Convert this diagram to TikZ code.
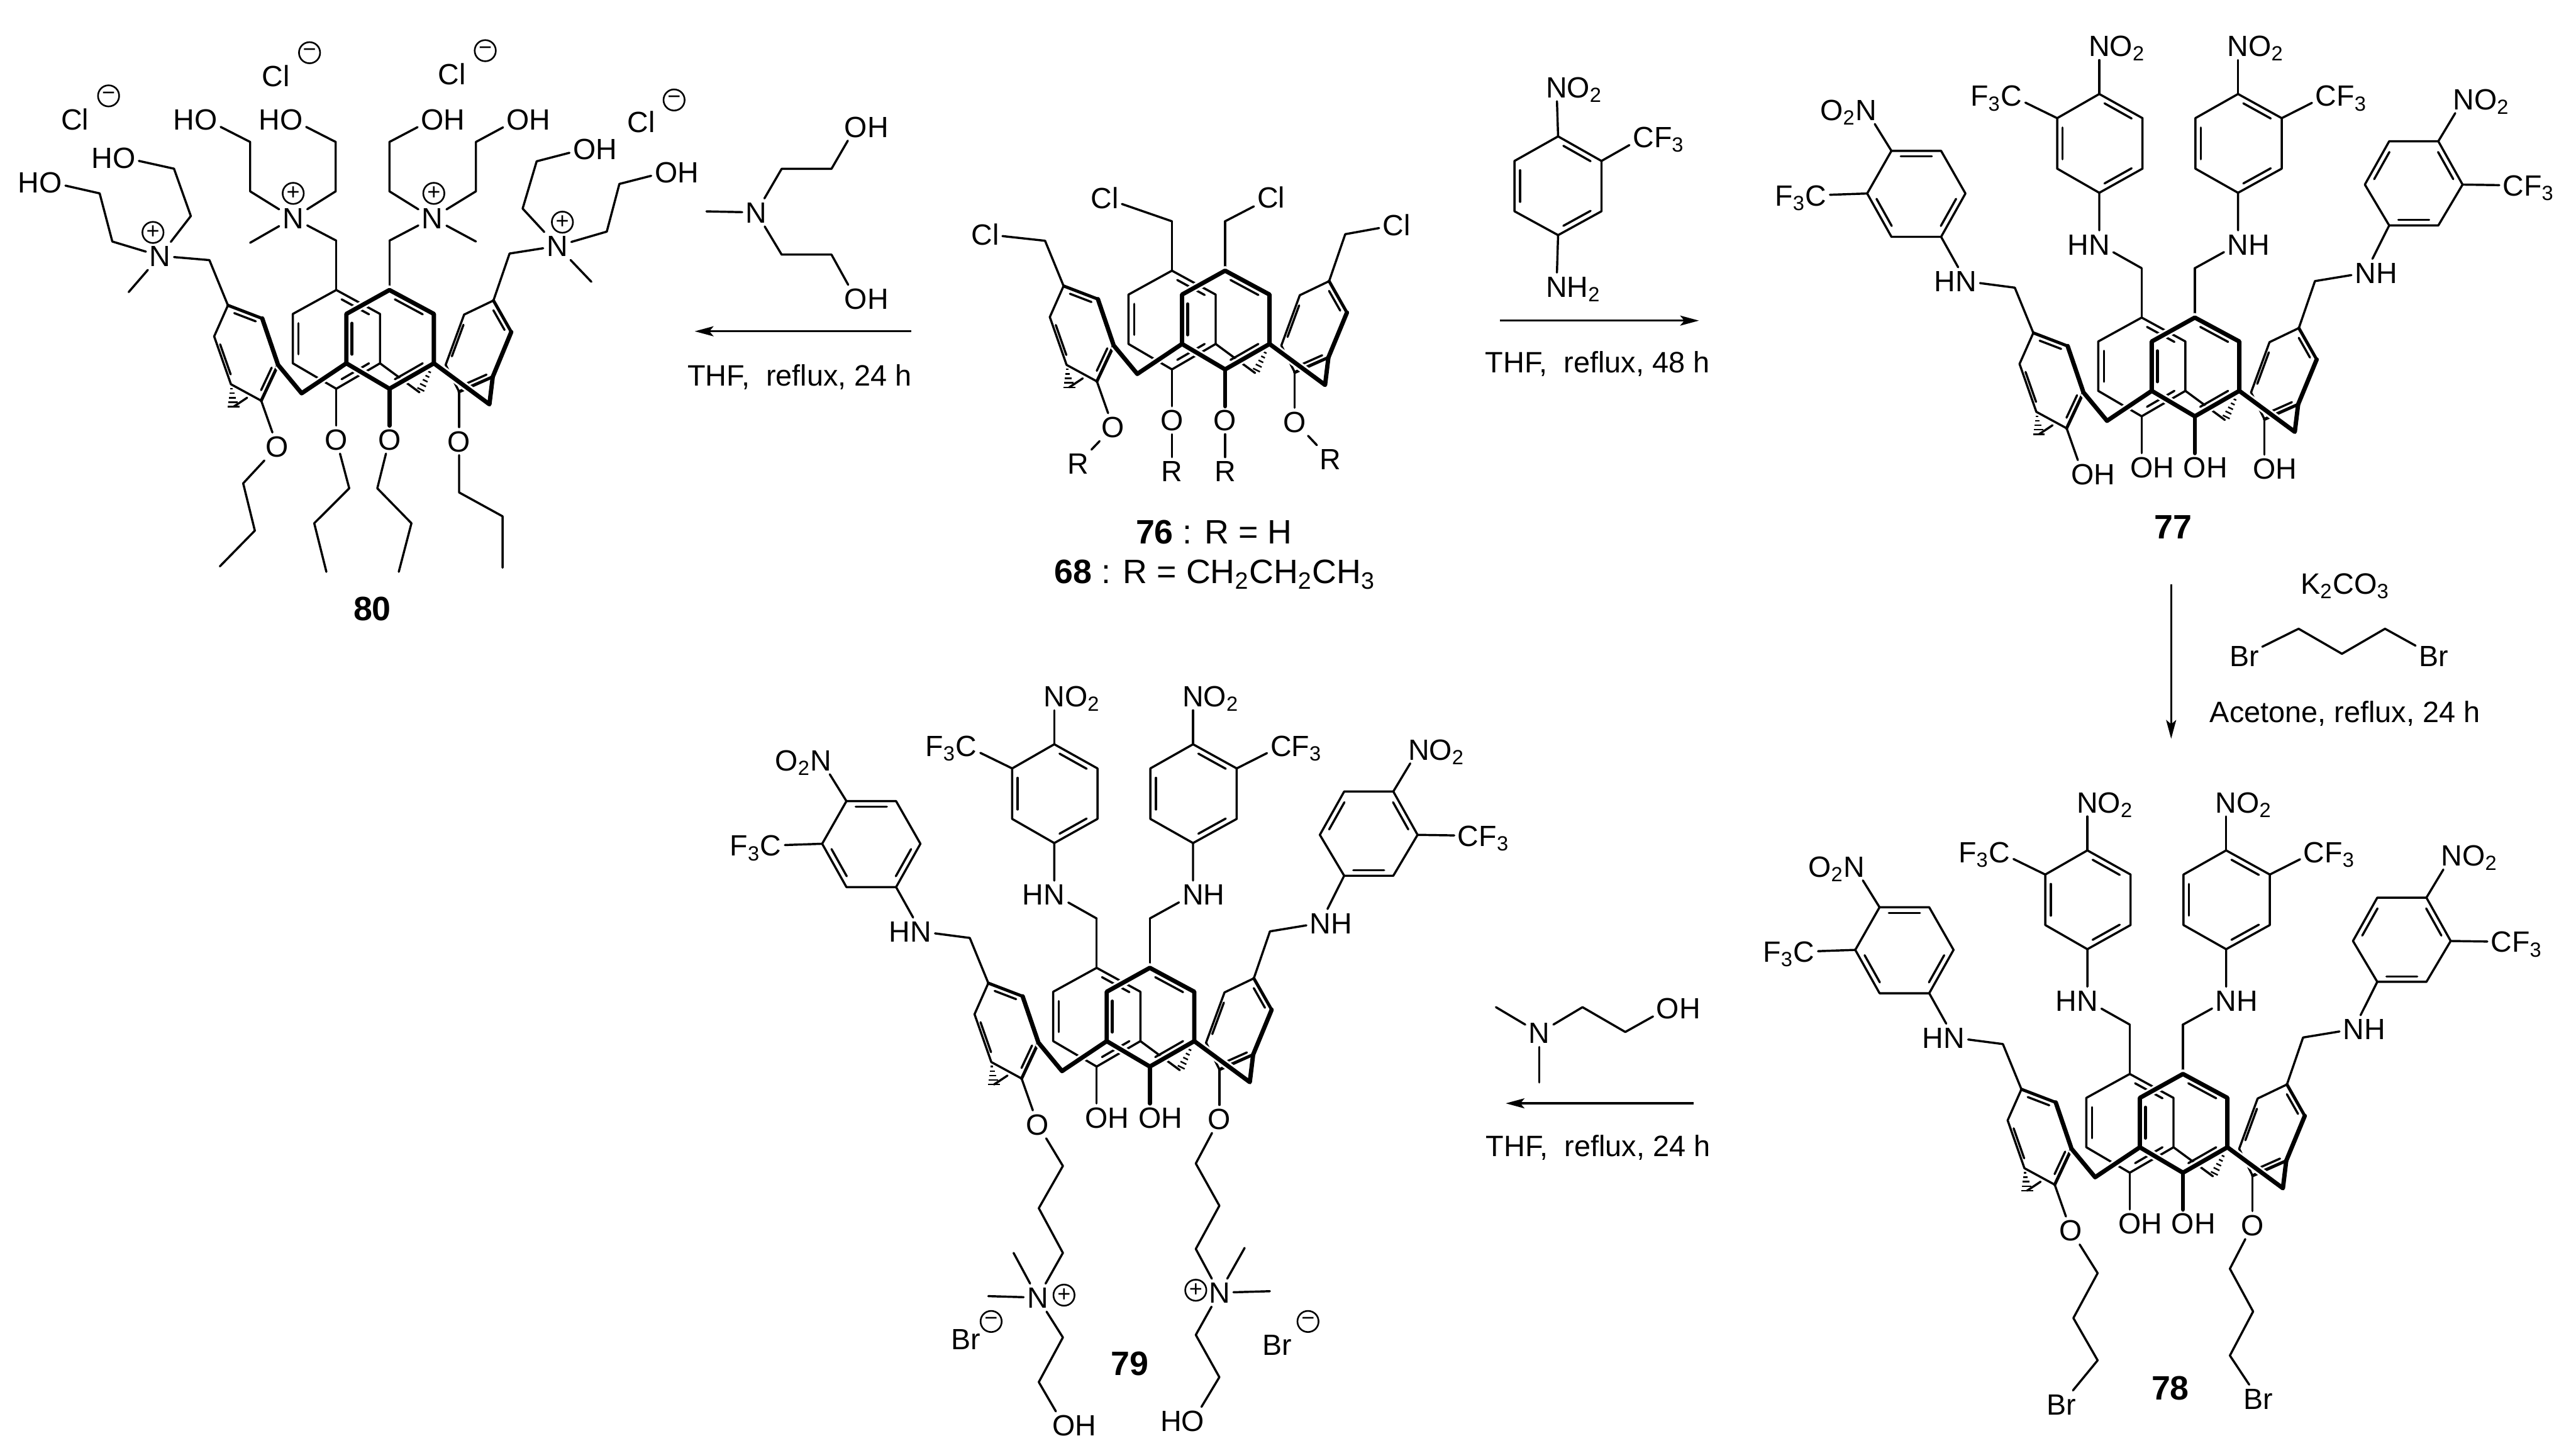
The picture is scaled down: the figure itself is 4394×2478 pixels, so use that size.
\documentclass[tikz,border=0pt]{standalone}
\usepackage{fontspec}
\setmainfont{Liberation Sans}
\usetikzlibrary{arrows.meta,calc}

\newcommand{\nitro}{N\rlap{O\textsubscript{2}}}
\newcommand{\nitrol}{\llap{O\textsubscript{2}}N}
\newcommand{\cfr}{C\rlap{F\textsubscript{3}}}
\newcommand{\cfl}{\llap{F\textsubscript{3}}C}
\newcommand{\hyr}{O\rlap{H}}
\newcommand{\hyl}{\llap{H}O}

\newcommand{\inbond}[3]{\draw[bond] ($(#1)!.14!(#2)!.13!(#3)$) -- ($(#2)!.14!(#1)!.13!(#3)$);}
\newcommand{\sixring}[7]{
\coordinate (#1a) at (#2);
\coordinate (#1b) at (#3);
\coordinate (#1c) at (#4);
\coordinate (#1d) at (#5);
\coordinate (#1e) at (#6);
\coordinate (#1f) at (#7);
\coordinate (#1m) at ($(#1a)!.5!(#1d)$);
\draw[bond] (#1a) -- (#1b) -- (#1c) -- (#1d) -- (#1e) -- (#1f) -- cycle;
\inbond{#1a}{#1b}{#1m}
\inbond{#1c}{#1d}{#1m}
\inbond{#1e}{#1f}{#1m}
}

\newcommand{\calixcore}[4]{
\coordinate (LH) at (-265.8,30.6);
\coordinate (LB) at (-149.8,7.7);
\coordinate (RH) at (51.1,6.1);
\coordinate (RB) at (170.5,26.5);
\coordinate (Ml) at (-307.1,-219.4);
\coordinate (Mb) at (-90.7,-252.6);
\coordinate (Mf) at (0,-252.6);
\coordinate (Mr) at (204.9,-230.6);
\node[atom] (o1) at (-191.2,98.5) {#1};
\node[atom] (o2) at (-90.7,86.7) {#2};
\node[atom] (o3) at (0,86.7) {#3};
\node[atom] (o4) at (118.8,89.3) {#4};

\sixring{Bk}{-90.7,-168.4}{-16.1,-127.6}{-16.1,-43.4}{-90.7,0}{-164.8,-43.4}{-164.8,-127.6}
\sixring{Lf}{-275.5,-142.3}{-217,-119.9}{-190,-40.8}{-218.7,20.4}{-270.4,-7.7}{-299,-89.3}
\sixring{Rt}{177.4,-150.5}{207.8,-96.9}{176.2,-20.4}{118.8,5.1}{95.9,-40.8}{127.4,-126.5}

\draw[bond] (Bkc) -- (RH);
\draw[bond] (LH) -- (-242.8,15.3);
\foreach \t/\w in {.2/2,.4/4,.6/6,.8/8,1/10}
  \draw[hashbond] ($(Lfe)!\t!(LH)$) ++(-\w,0) -- ++({2*\w},0);
\foreach \t/\w in {.15/1.5,.3/2.5,.45/3.5,.6/4.5,.75/5.5,.9/6.5}
  \draw[hashbond] ($(75.8,-43.4)!\t!(RH)$) +({-.9*\w},{-.45*\w}) -- +({.9*\w},{.45*\w});

\draw[bond] (Lfa) -- (Ml);
\draw[bond] (Bka) -- (Mb);
\draw[bond] (0,-168.4) -- (Mf);
\draw[bond] (Rta) -- (Mr);
\draw[bond] (Lfd) -- (o1);
\draw[bond] (Bkd) -- (o2);
\draw[bond] (Rtd) -- (o4);

\draw[midbond] (Lfa) -- (Lfb);
\draw[midbond] (Lfc) -- (Lfd);
\draw[midbond] (Rta) -- (Rtb);
\draw[midbond] (Rtc) -- (Rtd);
\draw[boldbond] (Lfb) -- (Lfc);
\draw[boldbond] (Rtb) -- (Rtc);

\draw[halo] (0,-168.4) -- (75.8,-127.6) -- (75.8,-43.4) -- (0,0) -- (-73.5,-43.4) -- (-73.5,-127.6) -- cycle;
\draw[halo] (-190,-40.8) -- (LB) -- (-73.5,-43.4);
\draw[halo] (75.8,-43.4) -- (RB);
\sixring{Fr}{0,-168.4}{75.8,-127.6}{75.8,-43.4}{0,0}{-73.5,-43.4}{-73.5,-127.6}
\draw[midbond] ($(Fre)!.14!(Frf)!.13!(Frm)$) -- ($(Frf)!.14!(Fre)!.13!(Frm)$);
\draw[boldbond] (Fra) -- (Frb) -- (Frc) -- (Frd) -- (Fre) -- (Frf) -- cycle;
\draw[boldbond] (Lfc) -- (LB) -- (Fre);
\draw[boldbond] (Frc) -- (RB) -- (Rtc);
\draw[boldbond] (Frd) -- (o3);
}

\newcommand{\nitroarms}{
\sixring{ArA}{-163,-549.7}{-89.3,-508.5}{-89.3,-422.4}{-163,-381.2}{-234.8,-422.4}{-234.8,-508.5}
\sixring{ArB}{73.7,-549.7}{148.2,-508.5}{148.2,-422.4}{73.7,-381.2}{0.9,-422.4}{0.9,-508.5}
\sixring{ArC}{-517.5,-452.7}{-432.8,-452.7}{-391.3,-380}{-432.8,-306.1}{-517.5,-306.1}{-558.9,-380}
\sixring{ArD}{331.5,-469.1}{290,-395.2}{331.5,-325.5}{415.3,-325.5}{456.7,-395.2}{415.3,-469.1}
\node[atom] (nb) at (-163,-293.3) {\llap{H}N};
\node[atom] (nf) at (73.7,-293.3) {N\rlap{H}};
\node[atom] (nl) at (-390.4,-230.3) {\llap{H}N};
\node[atom] (nr) at (291,-244.8) {N\rlap{H}};
\node[atom] (noa) at (-163,-631.5) {\nitro};
\node[atom] (nob) at (73.7,-631.5) {\nitro};
\node[atom] (noc) at (-560.8,-522.4) {\nitrol};
\node[atom] (nod) at (458.6,-541) {\nitro};
\node[atom] (cfa) at (-313,-546.7) {\cfl};
\node[atom] (cfb) at (223.8,-546.7) {\cfr};
\node[atom] (cfc) at (-646.4,-377) {\cfl};
\node[atom] (cfd) at (543.3,-393.9) {\cfr};
\draw[bond] (Mb) -- (nb) -- (ArAd);
\draw[bond] (Mf) -- (nf) -- (ArBd);
\draw[bond] (Ml) -- (nl) -- (ArCd);
\draw[bond] (Mr) -- (nr) -- (ArDc);
\draw[bond] (ArAa) -- (noa);
\draw[bond] (ArBa) -- (nob);
\draw[bond] (ArCa) -- (noc);
\draw[bond] (ArDf) -- (nod);
\draw[bond] (ArAf) -- (cfa);
\draw[bond] (ArBb) -- (cfb);
\draw[bond] (ArCf) -- (cfc);
\draw[bond] (ArDe) -- (cfd);
}

\begin{document}
\begin{tikzpicture}
[x=0.01cm,y=-0.01cm,
bond/.style={line width=1.05pt,line cap=round,line join=round},
midbond/.style={line width=1.5pt,line cap=round,line join=round},
boldbond/.style={line width=2.1pt,line cap=round,line join=round},
hashbond/.style={line width=0.75pt},
halo/.style={white,line width=4pt},
atom/.style={inner sep=1.5pt,text height=10.2pt,text depth=0pt,font=\fontsize{14.2}{17}\selectfont},
cond/.style={inner sep=0pt,font=\fontsize{14.3}{17}\selectfont},
numlabel/.style={inner sep=0pt,font=\fontsize{16.4}{19}\selectfont},
charge/.style={circle,draw,line width=0.8pt,inner sep=0pt,minimum size=0.36cm,text depth=0pt,font=\fontsize{11}{12}\selectfont},
rxn/.style={line width=1.05pt,-{Stealth[length=0.32cm,width=0.17cm,inset=0.07cm]}}]
\useasboundingbox (0,0) rectangle (4394,2478);

\begin{scope}[shift={(2089.7,630)},name prefix=m76-]
\calixcore{O}{O}{O}{O}
\node[atom] (cl1) at (-409.3,-230.6) {Cl};
\node[atom] (cl2) at (-205.5,-292.3) {Cl};
\node[atom] (cl3) at (78.6,-293.4) {Cl};
\node[atom] (cl4) at (292.2,-246.4) {Cl};
\node[atom] (r1) at (-250.9,160.7) {R};
\node[atom] (r2) at (-90.7,173.5) {R};
\node[atom] (r3) at (0,173.5) {R};
\node[atom] (r4) at (179.1,153) {R};
\draw[bond] (Ml) -- (cl1);
\draw[bond] (Mb) -- (cl2);
\draw[bond] (Mf) -- (cl3);
\draw[bond] (Mr) -- (cl4);
\draw[bond] (o1) -- (r1);
\draw[bond] (o2) -- (r2);
\draw[bond] (o3) -- (r3);
\draw[bond] (o4) -- (r4);
\end{scope}
\node[numlabel] (c76) at (2070.7,908) {\textbf{76} : R = H};
\node[numlabel] (c68) at (2072,980) {\textbf{68} : R = CH\textsubscript{2}CH\textsubscript{2}CH\textsubscript{3}};

\begin{scope}[shift={(664.3,663)},name prefix=m80-]
\calixcore{O}{O}{O}{O}
\node[atom] (n1) at (-391.4,-226.6) {N};
\node[atom] (n2) at (-164.2,-291.1) {N};
\node[atom] (n3) at (73.3,-291.1) {N};
\node[atom] (n4) at (286.2,-243.4) {N};
\node[charge] (p1) at (-403.4,-266.6) {+};
\node[charge] (p2) at (-164.2,-333.2) {+};
\node[charge] (p3) at (75.7,-333.2) {+};
\node[charge] (p4) at (295,-284.1) {+};
\node[atom] (h1) at (-578,-352.2) {\hyl};
\node[atom] (h2) at (-452.8,-394.2) {\hyl};
\node[atom] (h3) at (-313.3,-459.5) {\hyl};
\node[atom] (h4) at (-167.4,-459.5) {\hyl};
\node[atom] (h5) at (73.3,-459.5) {\hyr};
\node[atom] (h6) at (219.2,-459.5) {\hyr};
\node[atom] (h7) at (332.4,-409) {\hyr};
\node[atom] (h8) at (471.9,-369.7) {\hyr};
\draw[bond] (Ml) -- (n1);
\draw[bond] (Mb) -- (n2);
\draw[bond] (Mf) -- (n3);
\draw[bond] (Mr) -- (n4);
\draw[bond] (n1) -- (-472.7,-251.1) -- (-494.3,-333.2) -- (h1);
\draw[bond] (n1) -- (-338.8,-294.6) -- (-367.5,-375.3) -- (h2);
\draw[bond] (n2) -- (-237.6,-336.7) -- (-237.6,-420.9) -- (h3);
\draw[bond] (n2) -- (-91.7,-336.7) -- (-91.7,-420.9) -- (h4);
\draw[bond] (n3) -- (0,-336.7) -- (0,-420.9) -- (h5);
\draw[bond] (n3) -- (147.5,-336.7) -- (147.5,-420.9) -- (h6);
\draw[bond] (n4) -- (227.2,-307.3) -- (251.1,-387.9) -- (h7);
\draw[bond] (n4) -- (370.7,-268) -- (392.2,-349.3) -- (h8);
\draw[bond] (n1) -- (-444.8,-164.9);
\draw[bond] (n2) -- (-237.6,-249);
\draw[bond] (n3) -- (147.5,-251.1);
\draw[bond] (n4) -- (344.4,-182.4);
\draw[bond] (o1) -- (-249.5,161.3) -- (-229.6,242) -- (-289.4,303);
\draw[bond] (o2) -- (-68.6,169.8) -- (-128.3,229.4) -- (-107.6,312.2);
\draw[bond] (o3) -- (-20.7,169.8) -- (37.5,229.4) -- (15.9,312.2);
\draw[bond] (o4) -- (118.8,176.8) -- (192.9,217.5) -- (192.9,305.2);
\node[atom] (cl1) at (-536.5,-459.5) {Cl};
\node[charge] (q1) at (-479.1,-499.5) {−};
\node[atom] (cl2) at (-193.7,-533.1) {Cl};
\node[charge] (q2) at (-136.3,-573.1) {−};
\node[atom] (cl3) at (106.8,-536.6) {Cl};
\node[charge] (q3) at (163.4,-576.6) {−};
\node[atom] (cl4) at (429.7,-454.6) {Cl};
\node[charge] (q4) at (485.5,-492.5) {−};
\end{scope}
\node[numlabel] (c80) at (635,1038) {\textbf{80}};

\begin{scope}[shift={(3743.8,710)},name prefix=m77-]
\calixcore{\hyr}{\hyr}{\hyr}{\hyr}
\nitroarms
\end{scope}
\node[numlabel] (c77) at (3707,899) {\textbf{77}};

\begin{scope}[shift={(3723.5,2000)},name prefix=m78-]
\calixcore{O}{\hyr}{\hyr}{O}
\nitroarms
\node[atom] (br1) at (-207.2,395.2) {Br};
\node[atom] (br2) at (128.9,385.4) {Br};
\draw[bond] (o1) -- (-145.5,171.3) -- (-186.9,247.9) -- (-145.5,320) -- (br1);
\draw[bond] (o4) -- (80.1,163.8) -- (119.7,236.7) -- (80.1,311.8) -- (br2);
\end{scope}
\node[numlabel] (c78) at (3702,2367) {\textbf{78}};

\begin{scope}[shift={(1961.3,1819)},name prefix=m79-]
\calixcore{O}{\hyr}{\hyr}{O}
\nitroarms
\node[atom] (n1) at (-191.3,394) {N};
\node[atom] (n2) at (118.6,385.6) {N};
\node[charge] (p1) at (-146.4,389.8) {+};
\node[charge] (p2) at (78.4,381.4) {+};
\node[atom] (h1) at (-146.4,611.9) {\hyr};
\node[atom] (h2) at (73.7,604.2) {\hyl};
\draw[bond] (o1) -- (-148.3,169.5) -- (-189.4,241.5) -- (-148.3,317.8) -- (n1);
\draw[bond] (o4) -- (78.4,165.3) -- (118.6,237.3) -- (78.4,311) -- (n2);
\draw[bond] (n1) -- (-232.4,317.8);
\draw[bond] (n1) -- (-275.5,391.5);
\draw[bond] (n2) -- (161.7,309.3);
\draw[bond] (n2) -- (204.7,383.1);
\draw[bond] (n1) -- (-148.3,461.9) -- (-189.4,538.1) -- (h1);
\draw[bond] (n2) -- (78.4,457.6) -- (118.6,529.7) -- (h2);
\node[atom] (br1) at (-313.8,464.4) {Br};
\node[charge] (q1) at (-270.7,434.7) {−};
\node[atom] (br2) at (217.2,474.6) {Br};
\node[charge] (q2) at (269.8,434.7) {−};
\end{scope}
\node[numlabel] (c79) at (1927,2326) {\textbf{79}};

\node[atom] (an) at (1290,362.3) {N};
\node[atom] (ah1) at (1460,216) {\hyr};
\node[atom] (ah2) at (1460,509.6) {\hyr};
\draw[bond] (an) -- (1205,360.5);
\draw[bond] (an) -- (1333.3,287.9) -- (1418.3,287.9) -- (ah1);
\draw[bond] (an) -- (1333.3,434.2) -- (1418.3,434.2) -- (ah2);
\coordinate (r1s) at (1554,565);
\coordinate (r1e) at (1185,565);
\draw[rxn] (r1s) -- (r1e);
\node[cond] (t1) at (1364,643) {THF,\ \ reflux, 24 h};

\sixring{Nt}{2657.7,232.6}{2731.7,274.5}{2731.7,360.3}{2657.7,401}{2583.3,360.3}{2583.3,274.5}
\node[atom] (tno) at (2655,148.8) {\nitro};
\node[atom] (tcf) at (2803.3,233.8) {\cfr};
\node[atom] (tnh) at (2655,488.7) {N\rlap{H\textsubscript{2}}};
\draw[bond] (Nta) -- (tno);
\draw[bond] (Ntb) -- (tcf);
\draw[bond] (Ntd) -- (tnh);
\coordinate (r2s) at (2558,546.8);
\coordinate (r2e) at (2898,546.8);
\draw[rxn] (r2s) -- (r2e);
\node[cond] (t2) at (2725,621) {THF,\ \ reflux, 48 h};

\node[cond] (k2) at (4000,1000) {K\textsubscript{2}CO\textsubscript{3}};
\node[atom] (pb1) at (3827.9,1118.3) {Br};
\node[atom] (pb2) at (4151.2,1118.3) {Br};
\draw[bond] (pb1) -- (3920.8,1072.3) -- (3994.7,1115) -- (4068.2,1072.3) -- (pb2);
\coordinate (r3s) at (3703.4,997);
\coordinate (r3e) at (3703.4,1260);
\draw[rxn] (r3s) -- (r3e);
\node[cond] (t3) at (4000,1216.7) {Acetone, reflux, 24 h};

\node[atom] (dn) at (2625.7,1761.7) {N};
\node[atom] (dh) at (2845,1719.3) {\hyr};
\draw[bond] (dn) -- (2551.7,1717.7);
\draw[bond] (dn) -- (2625.7,1846);
\draw[bond] (dn) -- (2699.3,1717.7) -- (2772.3,1760) -- (dh);
\coordinate (r4s) at (2889,1881.7);
\coordinate (r4e) at (2568.3,1881.7);
\draw[rxn] (r4s) -- (r4e);
\node[cond] (t4) at (2726,1956.7) {THF,\ \ reflux, 24 h};
\end{tikzpicture}
\end{document}
